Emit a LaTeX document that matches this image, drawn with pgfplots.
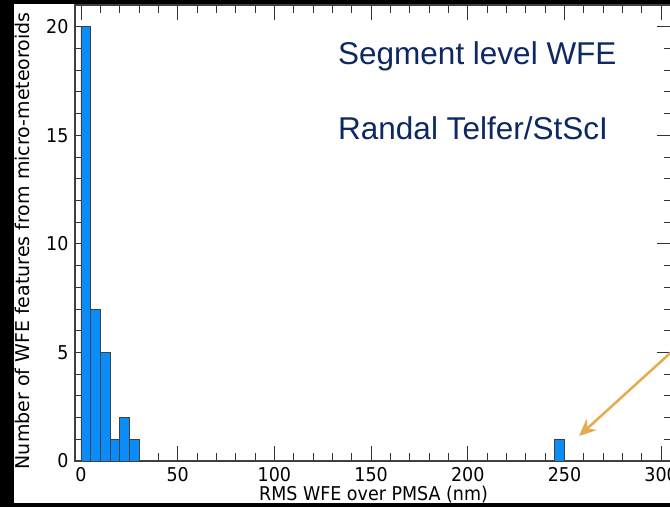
\documentclass[border=0pt]{standalone}
\usepackage{fontspec}
\setmainfont[FakeStretch=0.92]{DejaVu Sans}
\newfontfamily\dejavu{DejaVu Sans}
\newfontfamily\arial{Liberation Sans}
\usepackage{pgfplots}
\pgfplotsset{compat=1.18}
\usetikzlibrary{arrows.meta}
\definecolor{barblue}{RGB}{10,140,250}
\definecolor{navy}{RGB}{14,40,100}
\definecolor{arroworange}{RGB}{230,170,80}

\begin{document}
\begin{tikzpicture}[x=1pt,y=1pt]
% dark frame around the slide crop
\fill[black] (0,0) rectangle (670,507);
\fill[white] (14,4) rectangle (680,503);
\begin{axis}[
  at={(75pt,46pt)}, anchor=south west,
  scale only axis, width=597pt, height=456pt,
  xmin=-3.1, xmax=305.6, ymin=0, ymax=21,
  xtick={0,50,...,300}, ytick={0,5,...,20},
  minor x tick num=4, minor y tick num=4,
  tick align=inside,
  major tick length=15pt, minor tick length=8pt,
  every tick/.style={line width=0.8pt, black!80},
  axis line style={line width=1.2pt, black!75},
  /pgf/number format/assume math mode=true,
  ticklabel style={font=\fontsize{19}{19}\selectfont},
  yticklabel style={xshift=-3pt},
  xticklabel style={yshift=-3pt},
  xlabel={RMS WFE over PMSA (nm)},
  ylabel={Number of WFE features from micro-meteoroids},
  xlabel style={font=\fontsize{19}{19}\selectfont, at={(axis description cs:0.5,0)}, anchor=center, yshift=-34pt},
  ylabel style={font=\dejavu\fontsize{19}{19}\selectfont, at={(axis description cs:0,0.483)}, anchor=center, yshift=53pt},
]
% histogram, bins of 5 nm
\addplot[ybar interval, fill=barblue, draw=black!75, line width=0.8pt]
  coordinates {(0,20) (5,7) (10,5) (15,1) (20,2) (25,1) (30,0)};
\addplot[ybar interval, fill=barblue, draw=black!75, line width=0.8pt]
  coordinates {(245,1) (250,0)};
\end{axis}
\node[anchor=base west, inner sep=0, text=navy, font=\arial\fontsize{31.5}{32}\selectfont] at (338,442) {Segment level WFE};
\node[anchor=base west, inner sep=0, text=navy, font=\arial\fontsize{31.5}{32}\selectfont] at (338,367) {Randal Telfer/StScI};
\draw[arroworange, line width=2.5pt, -{Stealth[length=17pt,width=15pt]}] (700,181) -- (579,71);
\pgfresetboundingbox
\useasboundingbox (0,0) rectangle (670,507);
\end{tikzpicture}
\end{document}
